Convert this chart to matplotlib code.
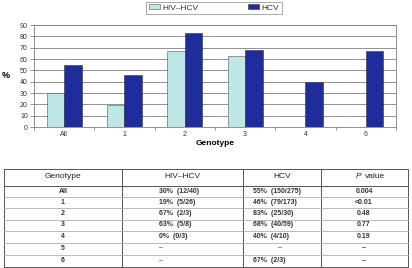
import numpy as np
import matplotlib
matplotlib.use("Agg")
import matplotlib.pyplot as plt

plt.rcParams['font.family'] = ['Liberation Sans', 'DejaVu Sans']

# chart data
genotypes = ['All', '1', '2', '3', '4', '6']
hiv_hcv = [30, 19, 67, 63, 0, np.nan]
hcv = [55, 46, 83, 68, 40, 67]

# table data
tbl_header = ['Genotype', 'HIV\u2013HCV', 'HCV', 'P value']
tbl_genotype = ['All', '1', '2', '3', '4', '5', '6']
tbl_hiv = ['30%  (12/40)', '19%  (5/26)', '67%  (2/3)', '63%  (5/8)', '0%  (0/3)', '\u2013', '\u2013']
tbl_hcv = ['55%  (150/275)', '46%  (79/173)', '83%  (25/30)', '68%  (40/59)', '40%  (4/10)', '\u2013', '67%  (2/3)']
tbl_p = ['0.004', '<0.01', '0.48', '0.77', '0.19', '\u2013', '\u2013']

light = '#bde6e6'
dark = '#1f2d9c'

W, H = 412, 268
fig = plt.figure(figsize=(W / 100, H / 100), dpi=100)

ax = fig.add_axes([34 / W, 1 - 127 / H, 362 / W, 102 / H])
x = np.arange(len(genotypes))
bw = 0.29
ax.bar(x - bw / 2, hiv_hcv, bw, color=light, edgecolor='#555555', linewidth=0.4, label='HIV\u2013HCV', zorder=3)
ax.bar(x + bw / 2, hcv, bw, color=dark, edgecolor='#333333', linewidth=0.4, label='HCV', zorder=3)
ax.set_xlim(-0.5, len(genotypes) - 0.5)
ax.set_ylim(0, 90)
ax.set_yticks(range(0, 91, 10))
ax.yaxis.grid(True, color='#808080', linewidth=0.6, zorder=0)
ax.set_xticks(x)
ax.set_xticklabels(genotypes)
ax.set_xticks(np.arange(-0.5, len(genotypes), 1), minor=True)
ax.tick_params(axis='x', which='major', length=0, labelsize=5, pad=3, labelcolor='#333333')
ax.tick_params(axis='x', which='minor', length=2.5, color='#808080', width=0.6)
ax.tick_params(axis='y', length=3, labelsize=5, pad=1.5, color='#808080', width=0.6, labelcolor='#333333')
for side in ['left', 'bottom', 'right', 'top']:
    ax.spines[side].set_color('#808080')
    ax.spines[side].set_linewidth(0.6)
ax.set_xlabel('Genotype', fontsize=6, fontweight='bold', labelpad=1)
ax.set_ylabel('%', fontsize=6.5, fontweight='bold', rotation=0, labelpad=10, va='center')

leg = fig.legend(loc='center', bbox_to_anchor=(214 / W, 1 - 8 / H), ncol=2, fontsize=6,
                 frameon=True, fancybox=False, edgecolor='#808080', handlelength=1.3,
                 handleheight=0.5, columnspacing=6, borderpad=0.3, handletextpad=0.3)
leg.get_frame().set_linewidth(0.6)
for t in leg.get_texts():
    t.set_color('#333333')

# table drawn in pixel coordinates
tax = fig.add_axes([0, 0, 1, 1])
tax.set_xlim(0, W)
tax.set_ylim(H, 0)
tax.axis('off')
top, hdr_bot, bot = 169, 186, 267
left, right = 4, 408
col_lines = [122, 243, 321]
row_lines = [197, 208, 219.5, 231, 242.5, 254.5]
tc = '#555555'
tax.plot([left, right, right, left, left], [top, top, bot, bot, top], color=tc, lw=0.7)
tax.plot([left, right], [hdr_bot, hdr_bot], color=tc, lw=0.7)
for cx in col_lines:
    tax.plot([cx, cx], [top, bot], color=tc, lw=0.7)
for ry in row_lines:
    tax.plot([left, right], [ry, ry], color='#b0b0b0', lw=0.6)

hy = 177
tax.text(63, hy, tbl_header[0], fontsize=6, ha='center', va='center', color='#222222')
tax.text(182, hy, tbl_header[1], fontsize=6, ha='center', va='center', color='#222222')
tax.text(282, hy, tbl_header[2], fontsize=6, ha='center', va='center', color='#222222')
p_word, rest = tbl_header[3].split(' ', 1)
tax.text(361.5, hy, p_word, fontsize=6, ha='right', va='center', style='italic', color='#222222')
tax.text(364.5, hy, rest, fontsize=6, ha='left', va='center', color='#222222')

row_y = [191.7, 202.7, 213.8, 225, 236.7, 248, 260.5]
for i, yy in enumerate(row_y):
    tax.text(63, yy, tbl_genotype[i], fontsize=5, ha='center', va='center', fontweight='bold', color='#333333')
    if tbl_hiv[i] == '\u2013':
        tax.text(161, yy, tbl_hiv[i], fontsize=5, ha='center', va='center', color='#333333')
    else:
        tax.text(159, yy, tbl_hiv[i], fontsize=5, ha='left', va='center', fontweight='bold', color='#333333')
    if tbl_hcv[i] == '\u2013':
        tax.text(280, yy, tbl_hcv[i], fontsize=5, ha='center', va='center', color='#333333')
    else:
        tax.text(253, yy, tbl_hcv[i], fontsize=5, ha='left', va='center', fontweight='bold', color='#333333')
    tax.text(364, yy, tbl_p[i], fontsize=5, ha='center', va='center', fontweight='bold', color='#333333')

fig.savefig('out.png', dpi=100)
